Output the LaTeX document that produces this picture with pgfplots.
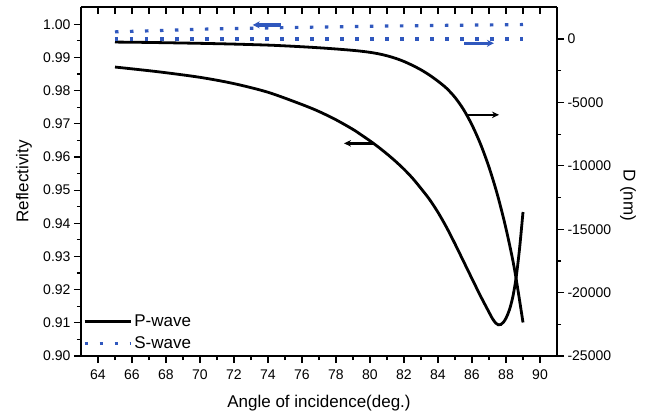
\documentclass[border=0pt]{standalone}
\usepackage{fontspec}
\setmainfont{Liberation Sans}
\usepackage{pgfplots}
\pgfplotsset{compat=1.18}
\usetikzlibrary{arrows.meta}
\definecolor{sblue}{RGB}{48,88,190}

\pgfplotsset{
  base/.style={
    scale only axis, width=476pt, height=349pt,
    at={(0,0)}, anchor=south west,
    xmin=63, xmax=91,
    axis line style={line width=1.3pt},
    every tick/.style={line width=1.2pt, black},
    major tick length=7pt, minor tick length=4pt,
    tick label style={font=\fontsize{14}{16}\selectfont},
    label style={font=\fontsize{17}{20}\selectfont},
    /pgf/number format/assume math mode=true,
    clip=false,
  },
  pw/.style={black, line width=2.8pt, smooth},
  sw/.style={sblue, line width=3.2pt, dash pattern=on 3.5pt off 11.5pt},
}

\begin{document}
\begin{tikzpicture}
% left axis: reflectivity
\begin{axis}[base,
  axis x line*=bottom, axis y line*=left, tick align=outside,
  xtick={64,66,...,90}, minor x tick num=1,
  xticklabel style={yshift=-3pt},
  ymin=0.90, ymax=1.0052,
  ytick={0.90,0.91,0.92,0.93,0.94,0.95,0.96,0.97,0.98,0.99,1.00},
  minor y tick num=1,
  yticklabel style={/pgf/number format/.cd, fixed, fixed zerofill, precision=2},
  xlabel={Angle of incidence(deg.)}, ylabel={Reflectivity},
  xlabel style={at={(axis description cs:0.5,-0.134)}, anchor=center},
  ylabel style={at={(axis description cs:-0.12,0.5)}, anchor=center},
  legend image code/.code={\draw[#1] (0pt,0pt) -- (46pt,0pt);},
  legend style={at={(axis description cs:0.004,0.01)}, anchor=south west,
    draw=none, fill=none, inner sep=0pt, row sep=5pt,
    font=\fontsize{17}{20}\selectfont, cells={anchor=west}},
]
\addplot[pw] coordinates {
(65,0.9871)(67.5,0.9857)(70,0.9840)(72,0.9821)(74,0.9795)(76,0.9758)
(77,0.9737)(78,0.9712)(79,0.9683)(79.5,0.9666)(80,0.96485)(80.5,0.96295)
(81,0.9609)(81.5,0.9587)(82,0.9563)(82.5,0.9536)(83,0.9505)(83.5,0.9472)
(84,0.9433)(84.5,0.9388)(85,0.9338)(85.5,0.92855)(86,0.9233)(86.5,0.9181)
(87,0.9132)(87.2,0.9113)(87.4,0.9099)(87.55,0.9094)(87.7,0.9095)
(87.85,0.9102)(88,0.9114)(88.2,0.9139)(88.4,0.9178)(88.6,0.9238)
(88.8,0.9325)(89,0.9434)};
\addlegendentry{P-wave}
\addplot[sw] coordinates {
(65,0.9977)(70,0.9985)(75,0.9990)(80,0.9994)(85,0.9997)(89,0.9999)};
\addlegendentry{S-wave}
\draw[black, line width=2.6pt, -{Stealth[length=7pt,width=6.5pt]}]
  (axis cs:80.24,0.9641) -- (axis cs:78.47,0.9641);
\draw[black, line width=2.6pt, -{Stealth[length=7pt,width=6.5pt]}]
  (axis cs:85.73,0.9727) -- (axis cs:87.59,0.9727);
\draw[sblue, line width=3.2pt, -{Stealth[length=7pt,width=7pt]}]
  (axis cs:74.75,0.9998) -- (axis cs:73.1,0.9998);
\draw[sblue, line width=3.2pt, -{Stealth[length=7pt,width=7pt]}]
  (axis cs:85.53,0.99427) -- (axis cs:87.29,0.99427);
\end{axis}
% right axis: D (nm)
\begin{axis}[base,
  axis x line*=top, axis y line*=right,
  xtick={64,...,90}, xticklabels={}, xtick align=inside, ytick align=outside,
  ymin=-25000, ymax=2526,
  ytick={-25000,-20000,-15000,-10000,-5000,0}, minor y tick num=1,
  scaled y ticks=false,
  yticklabel style={/pgf/number format/.cd, fixed, set thousands separator={}},
  ylabel={D (nm)},
  ylabel style={at={(axis description cs:1.149,0.461)}, anchor=center, rotate=180},
]
\addplot[pw] coordinates {
(65,-240)(67,-270)(70,-340)(72,-400)(74,-480)(75,-540)(76,-610)
(77,-690)(78,-785)(79,-895)(79.5,-965)(80,-1050)(80.5,-1165)(81,-1320)
(81.5,-1520)(82,-1770)(82.5,-2080)(83,-2430)(83.5,-2845)(84,-3330)
(84.5,-3880)(85,-4605)(85.5,-5555)(86,-6780)(86.5,-8280)(87,-10105)
(87.5,-12305)(88,-14955)(88.5,-18155)(89,-22355)};
\addplot[sw] coordinates {(65,0)(70,0)(75,0)(80,0)(85,0)(89,0)};
\end{axis}
\pgfresetboundingbox
\path (-81pt,-57pt) rectangle (570pt,356pt);
\end{tikzpicture}
\end{document}
